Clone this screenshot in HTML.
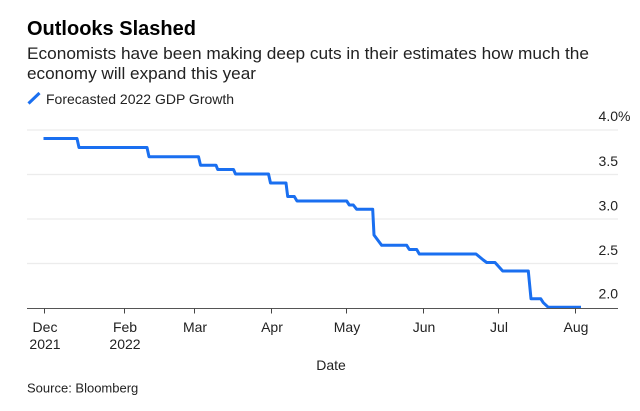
<!DOCTYPE html>
<html><head><meta charset="utf-8">
<style>
html,body{margin:0;padding:0;background:#fff;}
svg{display:block;}
text{font-family:"Liberation Sans",Arial,sans-serif;}
</style></head>
<body>
<svg width="640" height="411" viewBox="0 0 640 411" xmlns="http://www.w3.org/2000/svg">
<rect width="640" height="411" fill="#fff"/>
<text x="27" y="35" font-size="20" font-weight="bold" fill="#000">Outlooks Slashed</text>
<text x="27" y="59" font-size="17" fill="#222" textLength="562" lengthAdjust="spacingAndGlyphs">Economists have been making deep cuts in their estimates how much the</text>
<text x="27" y="79" font-size="17" fill="#222" textLength="229" lengthAdjust="spacingAndGlyphs">economy will expand this year</text>
<line x1="28.5" y1="103.5" x2="39.5" y2="93" stroke="#1a6ff0" stroke-width="3"/>
<text x="46" y="104" font-size="14" fill="#222">Forecasted 2022 GDP Growth</text>

<g stroke="#ececec" stroke-width="1.2">
<line x1="27" y1="130" x2="618" y2="130"/>
<line x1="27" y1="174.5" x2="618" y2="174.5"/>
<line x1="27" y1="219" x2="618" y2="219"/>
<line x1="27" y1="263.5" x2="618" y2="263.5"/>
</g>
<g font-size="14" fill="#222" text-anchor="end">
<text x="618" y="121">4.0</text>
<text x="618" y="166">3.5</text>
<text x="618" y="210.5">3.0</text>
<text x="618" y="255">2.5</text>
<text x="618" y="298.5">2.0</text>
</g>
<text x="618" y="121" font-size="14" fill="#222">%</text>

<polyline fill="none" stroke="#1a6ff0" stroke-width="3" stroke-linejoin="round" points="43.5,138.5 77,138.5 79,147.5 147,147.5 149,156.7 198.5,156.7 200.5,165.2 216,165.2 217.7,169.5 233.5,169.5 235.5,174 268.5,174 270.5,183 286,183 287.7,196.5 294.3,196.5 297,201 346.7,201 349.3,205 353.3,205 356.7,209.3 372.7,209.3 374,235 381.7,245.3 406.7,245.3 409.3,249.5 416.7,249.5 419.3,254 476,254 483.3,260 486.7,262.5 495,262.5 502.7,271 528.3,271 531,298.7 540.7,298.7 543.3,302.7 548.3,307.3 581,307.3"/>

<line x1="27" y1="308.5" x2="618" y2="308.5" stroke="#555" stroke-width="1"/>
<g stroke="#444" stroke-width="1">
<line x1="44.5" y1="308.5" x2="44.5" y2="313.5"/>
<line x1="124.5" y1="308.5" x2="124.5" y2="313.5"/>
<line x1="194.5" y1="308.5" x2="194.5" y2="313.5"/>
<line x1="271.5" y1="308.5" x2="271.5" y2="313.5"/>
<line x1="346.5" y1="308.5" x2="346.5" y2="313.5"/>
<line x1="423.5" y1="308.5" x2="423.5" y2="313.5"/>
<line x1="498.5" y1="308.5" x2="498.5" y2="313.5"/>
<line x1="575.5" y1="308.5" x2="575.5" y2="313.5"/>
</g>
<g font-size="14" fill="#222" text-anchor="middle">
<text x="45" y="332">Dec</text>
<text x="45" y="349">2021</text>
<text x="125" y="332">Feb</text>
<text x="125" y="349">2022</text>
<text x="195" y="332">Mar</text>
<text x="272" y="332">Apr</text>
<text x="347" y="332">May</text>
<text x="424" y="332">Jun</text>
<text x="499" y="332">Jul</text>
<text x="576" y="332">Aug</text>
<text x="331" y="370">Date</text>
</g>
<text x="27" y="392.5" font-size="13" fill="#222">Source: Bloomberg</text>
</svg>
</body></html>
